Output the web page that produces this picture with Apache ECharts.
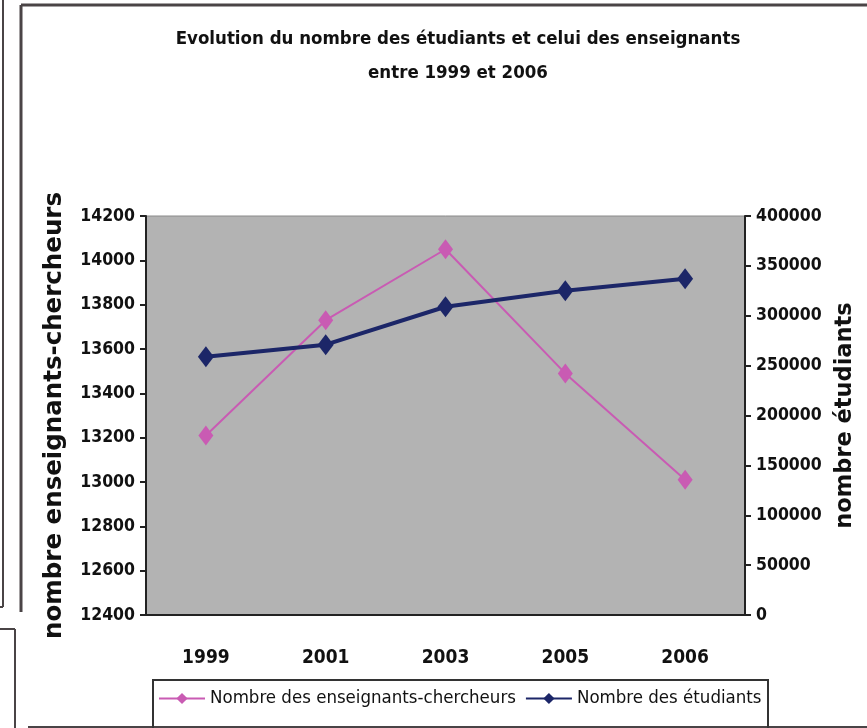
<!DOCTYPE html>
<html>
<head>
<meta charset="utf-8">
<script src="https://cdn.jsdelivr.net/npm/echarts@6/dist/echarts.min.js"></script>
<style>
    html, body { margin: 0; padding: 0; background: #fff; }
    #chart { width: 867px; height: 728px; }
</style>
</head>
<body>
<div id="chart"></div>
<script>
    // donnees
    var annees = ['1999', '2001', '2003', '2005', '2006'];
    var enseignants = [13210, 13730, 14050, 13490, 13010];
    var etudiants = [259000, 271000, 309000, 325000, 337000];

    var narrow = '"DejaVu Sans Condensed", "Liberation Sans", sans-serif';
    var frameColor = '#4a4446';

    function plain(v) { return String(v); }

    var myChart = echarts.init(document.getElementById('chart'));
    var option = {
        backgroundColor: '#fff',
        animation: false,
        title: {
            text: 'Evolution du nombre des étudiants et celui des enseignants\nentre 1999 et 2006',
            left: 453,
            top: 17,
            textAlign: 'center',
            textStyle: {
                fontFamily: narrow,
                fontWeight: 'bold',
                fontSize: 18.5,
                lineHeight: 34,
                color: '#111'
            }
        },
        grid: {
            left: 146,
            right: 122,
            top: 216,
            bottom: 113,
            outerBoundsMode: 'none',
            show: true,
            backgroundColor: '#b3b3b3',
            borderColor: '#8a8a8a',
            borderWidth: 1
        },
        legend: {
            left: 153,
            top: 684,
            itemWidth: 46,
            itemHeight: 14,
            itemGap: 9,
            textStyle: {
                fontFamily: narrow,
                fontSize: 18.5,
                color: '#111'
            },
            data: ['Nombre des enseignants-chercheurs', 'Nombre des étudiants']
        },
        xAxis: {
            type: 'category',
            data: annees,
            boundaryGap: true,
            axisLine: { lineStyle: { color: '#222', width: 2 } },
            axisTick: { inside: true, length: 8, lineStyle: { color: '#222', width: 2 } },
            axisLabel: {
                margin: 34,
                fontFamily: narrow,
                fontWeight: 'bold',
                fontSize: 19,
                color: '#111'
            }
        },
        yAxis: [
            {
                type: 'value',
                min: 12400,
                max: 14200,
                interval: 200,
                name: 'nombre enseignants-chercheurs',
                nameLocation: 'middle',
                nameRotate: 90,
                nameGap: 79,
                nameTextStyle: {
                    fontFamily: 'DejaVu Sans',
                    fontWeight: 'bold',
                    fontSize: 24.5,
                    color: '#111'
                },
                axisLine: { show: true, lineStyle: { color: '#222', width: 2 } },
                axisTick: { show: true, length: 6, lineStyle: { color: '#222', width: 2 } },
                splitLine: { show: false },
                axisLabel: {
                    margin: 11,
                    formatter: plain,
                    fontFamily: narrow,
                    fontWeight: 'bold',
                    fontSize: 17.5,
                    color: '#111'
                }
            },
            {
                type: 'value',
                min: 0,
                max: 400000,
                interval: 50000,
                position: 'right',
                name: 'nombre étudiants',
                nameLocation: 'middle',
                nameRotate: 90,
                nameGap: 89,
                nameTextStyle: {
                    fontFamily: 'DejaVu Sans',
                    fontWeight: 'bold',
                    fontSize: 22.5,
                    color: '#111'
                },
                axisLine: { show: true, lineStyle: { color: '#222', width: 2 } },
                axisTick: { show: true, length: 6, lineStyle: { color: '#222', width: 2 } },
                splitLine: { show: false },
                axisLabel: {
                    margin: 11,
                    formatter: plain,
                    fontFamily: narrow,
                    fontWeight: 'bold',
                    fontSize: 17.5,
                    color: '#111'
                }
            }
        ],
        series: [
            {
                name: 'Nombre des enseignants-chercheurs',
                type: 'line',
                yAxisIndex: 0,
                data: enseignants,
                symbol: 'diamond',
                symbolSize: [15, 20],
                lineStyle: { color: '#c95bb3', width: 2 },
                itemStyle: { color: '#c95bb3' }
            },
            {
                name: 'Nombre des étudiants',
                type: 'line',
                yAxisIndex: 1,
                data: etudiants,
                symbol: 'diamond',
                symbolSize: [16, 21],
                lineStyle: { color: '#1c2668', width: 4 },
                itemStyle: { color: '#1c2668' }
            }
        ],
        graphic: [
            // cadre principal
            { type: 'line', shape: { x1: 21, y1: 5, x2: 867, y2: 5 }, style: { stroke: frameColor, lineWidth: 3 } },
            { type: 'line', shape: { x1: 21, y1: 5, x2: 21, y2: 612 }, style: { stroke: frameColor, lineWidth: 3 } },
            // morceaux des cadres voisins
            { type: 'line', shape: { x1: 3, y1: 0, x2: 3, y2: 607 }, style: { stroke: frameColor, lineWidth: 2 } },
            { type: 'line', shape: { x1: 0, y1: 607, x2: 3, y2: 607 }, style: { stroke: frameColor, lineWidth: 2 } },
            { type: 'line', shape: { x1: 0, y1: 629, x2: 15, y2: 629 }, style: { stroke: frameColor, lineWidth: 2 } },
            { type: 'line', shape: { x1: 15, y1: 629, x2: 15, y2: 728 }, style: { stroke: frameColor, lineWidth: 2 } },
            { type: 'line', shape: { x1: 28, y1: 727, x2: 867, y2: 727 }, style: { stroke: frameColor, lineWidth: 2 } },
            // cadre de la legende
            { type: 'rect', shape: { x: 153, y: 680, width: 615, height: 60 }, style: { fill: 'none', stroke: '#333', lineWidth: 2 } }
        ]
    };
    option && myChart.setOption(option);
</script>
</body>
</html>
